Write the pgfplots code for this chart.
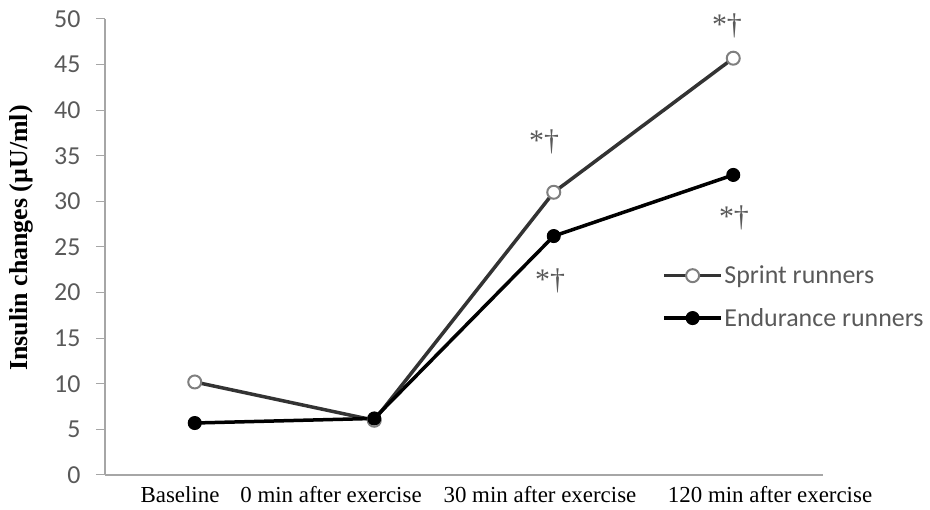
\documentclass[border=0pt]{standalone}
\usepackage{fontspec}
\setmainfont{Liberation Serif}
\newfontfamily\carlito{Carlito}
\usepackage{pgfplots}
\pgfplotsset{compat=1.18}
\definecolor{txtgray}{HTML}{595959}
\definecolor{axgray}{HTML}{A6A6A6}
\definecolor{markgray}{HTML}{7F7F7F}
\begin{document}
\begin{tikzpicture}[x=1bp,y=1bp]
\useasboundingbox (0,0) rectangle (930,510);
\begin{axis}[
  at={(105bp,35bp)}, anchor=south west,
  scale only axis, width=718bp, height=456bp,
  xmin=-0.5, xmax=3.5, ymin=0, ymax=50,
  axis lines*=left,
  x axis line style={draw=axgray, line width=2bp},
  y axis line style={draw=axgray, line width=1.5bp},
  ytick={0,5,...,50},
  xtick={-0.082,0.759,1.923,3.205},
  xticklabels={Baseline, 0 min after exercise, 30 min after exercise, 120 min after exercise},
  x tick style={draw=none},
  y tick style={draw=axgray, line width=1bp},
  tick align=outside, major tick length=9bp,
  /pgf/number format/assume math mode=true,
  yticklabel style={font=\carlito\fontsize{26}{26}\selectfont, text=txtgray, xshift=-12bp},
  xticklabel style={font=\fontsize{23}{23}\selectfont, text=black, yshift=-1bp, inner sep=1bp},
  ylabel={Insulin changes (µU/ml)},
  ylabel style={font=\bfseries\fontsize{26}{26}\selectfont, at={(axis description cs:-0.117,0.52)}, anchor=center},
  legend style={at={(axis description cs:0.776,0.462)}, anchor=north west, draw=none, fill=none,
    font=\carlito\fontsize{26}{26}\selectfont, text=txtgray, row sep=20bp, inner sep=0pt, nodes={inner sep=1.5bp}},
  legend cell align=left,
  legend image code/.code={\draw[mark repeat=2,mark phase=2,#1] plot coordinates {(0bp,0bp) (28.5bp,0bp) (57bp,0bp)};},
  clip=false,
]
\addplot[color=black!80, line width=3.5bp, mark=*, mark size=6.5bp, mark options={fill=white, draw=markgray, line width=2bp}]
  coordinates {(0,10.2) (1,6.0) (2,31.0) (3,45.7)};
\addlegendentry{Sprint runners}
\addplot[color=black, line width=3.5bp, mark=*, mark size=6.5bp, mark options={fill=black, draw=black, line width=1bp}]
  coordinates {(0,5.7) (1,6.2) (2,26.2) (3,32.9)};
\addlegendentry{Endurance runners}
\node[font=\fontsize{30}{30}\selectfont, text=txtgray] at (axis cs:2.965,49.2) {*†};
\node[font=\fontsize{30}{30}\selectfont, text=txtgray] at (axis cs:1.946,36.5) {*†};
\node[font=\fontsize{30}{30}\selectfont, text=txtgray] at (axis cs:1.98,21.3) {*†};
\node[font=\fontsize{30}{30}\selectfont, text=txtgray] at (axis cs:3.004,28.2) {*†};
\end{axis}
\end{tikzpicture}
\end{document}
